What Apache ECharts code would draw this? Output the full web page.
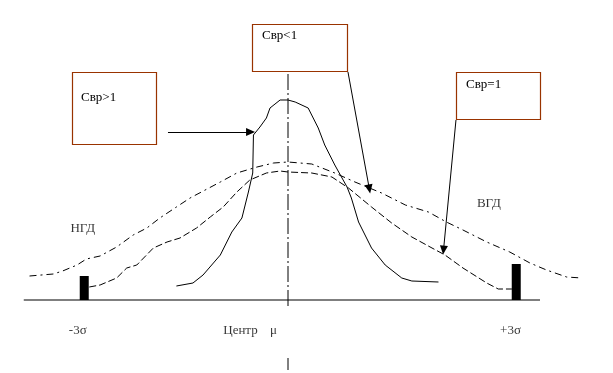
<!DOCTYPE html>
<html>
<head>
<meta charset="utf-8">
<script src="https://cdn.jsdelivr.net/npm/echarts@6/dist/echarts.min.js"></script>
<style>
html,body{margin:0;padding:0;background:#fff;}
#chart{width:613px;height:373px;}
</style>
</head>
<body>
<div id="chart"></div>
<script>
// x in sigma units (0 = centre), y = relative frequency
const wideX = [-3.59,-3.26,-3.13,-2.93,-2.80,-2.61,-2.38,-2.15,-1.96,-1.78,-1.55,-1.36,-0.94,-0.71,-0.43,-0.20,0,0.33,0.65,0.93,1.30,1.63,1.95,2.20,2.43,2.76,3.08,3.36,3.59,3.87,4.08];
const wideY = [0.24,0.26,0.29,0.35,0.41,0.44,0.53,0.65,0.72,0.82,0.93,1.02,1.18,1.27,1.33,1.37,1.38,1.36,1.27,1.18,1.07,0.95,0.88,0.78,0.70,0.58,0.48,0.37,0.30,0.23,0.22];

const midX = [-2.76,-2.61,-2.38,-2.24,-2.10,-1.87,-1.68,-1.50,-1.27,-1.08,-0.90,-0.71,-0.53,-0.30,-0.11,0,0.33,0.61,0.84,1.16,1.44,1.72,2.00,2.18,2.43,2.76,2.92,3.11];
const midY = [0.13,0.15,0.22,0.32,0.35,0.52,0.58,0.62,0.72,0.83,0.93,1.08,1.20,1.27,1.29,1.28,1.27,1.23,1.12,0.93,0.77,0.63,0.52,0.45,0.32,0.17,0.11,0.11];

const narrowX = [-1.55,-1.32,-1.18,-0.94,-0.78,-0.64,-0.55,-0.49,-0.48,-0.39,-0.30,-0.25,-0.11,0,0.10,0.28,0.42,0.51,0.65,0.82,0.88,0.98,1.16,1.35,1.58,1.72,2.09];
const narrowY = [0.14,0.17,0.25,0.45,0.68,0.82,1.08,1.27,1.65,1.73,1.82,1.92,2.00,2.00,1.98,1.92,1.72,1.55,1.35,1.13,1.02,0.78,0.52,0.35,0.22,0.19,0.18];

const baseX = [-3.67, 3.5];
const centreUpper = [2.26, -0.09];
const centreLower = [-0.58, -0.73];

const limitX = [-2.83, 3.17];
const limitH = [0.24, 0.36];

const tickLabels = ['-3σ', 'Центр', 'μ', '+3σ'];
const tickX = [-2.92, -0.66, -0.20, 3.09];
const tickY = -0.31;

const zoneLabels = ['НГД', 'ВГД'];
const zoneX = [-2.85, 2.79];
const zoneY = [0.71, 0.96];

const boxLabels = ['Свр>1', 'Свр<1', 'Свр=1'];
// arrows: [startX, startY, endX, endY]
const arrowStart = [[-1.667, 1.68], [0.833, 2.28], [2.333, 1.80]];
const arrowEnd = [[-0.52, 1.68], [1.13, 1.11], [2.16, 0.50]];

const zip = (xs, ys) => xs.map((x, i) => [x, ys[i]]);
const FONT = '"Liberation Serif", "DejaVu Serif", serif';

const chart = echarts.init(document.getElementById('chart'), null, {renderer: 'canvas'});

const option = {
  animation: false,
  backgroundColor: '#ffffff',
  grid: {left: 0, right: 1, top: 0, bottom: 0},
  xAxis: {type: 'value', min: -4, max: 4.5, show: false},
  yAxis: {type: 'value', min: -0.73, max: 3.0, show: false},
  series: [
    {
      name: 'base', type: 'line', showSymbol: false, silent: true,
      data: [[baseX[0], 0], [baseX[1], 0]],
      lineStyle: {color: '#000', width: 1.2}
    },
    {
      name: 'centreUp', type: 'line', showSymbol: false, silent: true,
      data: [[0, centreUpper[0]], [0, centreUpper[1]]],
      lineStyle: {color: '#000', width: 1, type: [16, 3, 2, 3]}
    },
    {
      name: 'centreLow', type: 'line', showSymbol: false, silent: true,
      data: [[0, centreLower[0]], [0, centreLower[1]]],
      lineStyle: {color: '#000', width: 1, type: [12, 4]}
    },
    {
      name: 'Свр<1', type: 'line', showSymbol: false, silent: true,
      data: zip(wideX, wideY),
      lineStyle: {color: '#000', width: 1, type: [7, 4, 2, 4]}
    },
    {
      name: 'Свр=1', type: 'line', showSymbol: false, silent: true,
      data: zip(midX, midY),
      lineStyle: {color: '#000', width: 1, type: [7, 3]}
    },
    {
      name: 'Свр>1', type: 'line', showSymbol: false, silent: true,
      data: zip(narrowX, narrowY),
      lineStyle: {color: '#000', width: 1}
    },
    {
      name: 'limits', type: 'custom', silent: true,
      data: zip(limitX, limitH),
      renderItem: function (params, api) {
        const p0 = api.coord([api.value(0), 0]);
        const p1 = api.coord([api.value(0), api.value(1)]);
        return {
          type: 'rect',
          shape: {x: p0[0] - 4.5, y: p1[1], width: 9, height: p0[1] - p1[1]},
          style: {fill: '#000'}
        };
      }
    },
    {
      name: 'ticks', type: 'scatter', silent: true, symbolSize: 0,
      data: tickX.map((x, i) => ({value: [x, tickY], label: {formatter: tickLabels[i]}})),
      label: {show: true, position: 'inside', color: '#000', fontFamily: FONT, fontSize: 13}
    },
    {
      name: 'zones', type: 'scatter', silent: true, symbolSize: 0,
      data: zoneX.map((x, i) => ({value: [x, zoneY[i]], label: {formatter: zoneLabels[i]}})),
      label: {show: true, position: 'inside', color: '#000', fontFamily: FONT, fontSize: 13}
    },
    {
      name: 'arrows', type: 'line', data: [], silent: true,
      markLine: {
        silent: true,
        animation: false,
        symbol: ['none', 'triangle'],
        symbolSize: [8, 9],
        label: {show: false},
        lineStyle: {color: '#000', width: 1, type: 'solid'},
        data: arrowStart.map((s, i) => [{coord: s}, {coord: arrowEnd[i]}])
      }
    }
  ],
  graphic: [
    {type: 'rect', z: 100, shape: {x: 72.5, y: 72.5, width: 84, height: 72}, style: {fill: '#fff', stroke: '#993300', lineWidth: 1.2}},
    {type: 'text', z: 101, left: 81, top: 91, style: {text: boxLabels[0], fill: '#000', font: '13px ' + FONT}},
    {type: 'rect', z: 100, shape: {x: 252.5, y: 24.5, width: 95, height: 47}, style: {fill: '#fff', stroke: '#993300', lineWidth: 1.2}},
    {type: 'text', z: 101, left: 262, top: 29, style: {text: boxLabels[1], fill: '#000', font: '13px ' + FONT}},
    {type: 'rect', z: 100, shape: {x: 456.5, y: 72.5, width: 84, height: 47}, style: {fill: '#fff', stroke: '#993300', lineWidth: 1.2}},
    {type: 'text', z: 101, left: 466, top: 78, style: {text: boxLabels[2], fill: '#000', font: '13px ' + FONT}}
  ]
};
chart.setOption(option);
</script>
</body>
</html>
